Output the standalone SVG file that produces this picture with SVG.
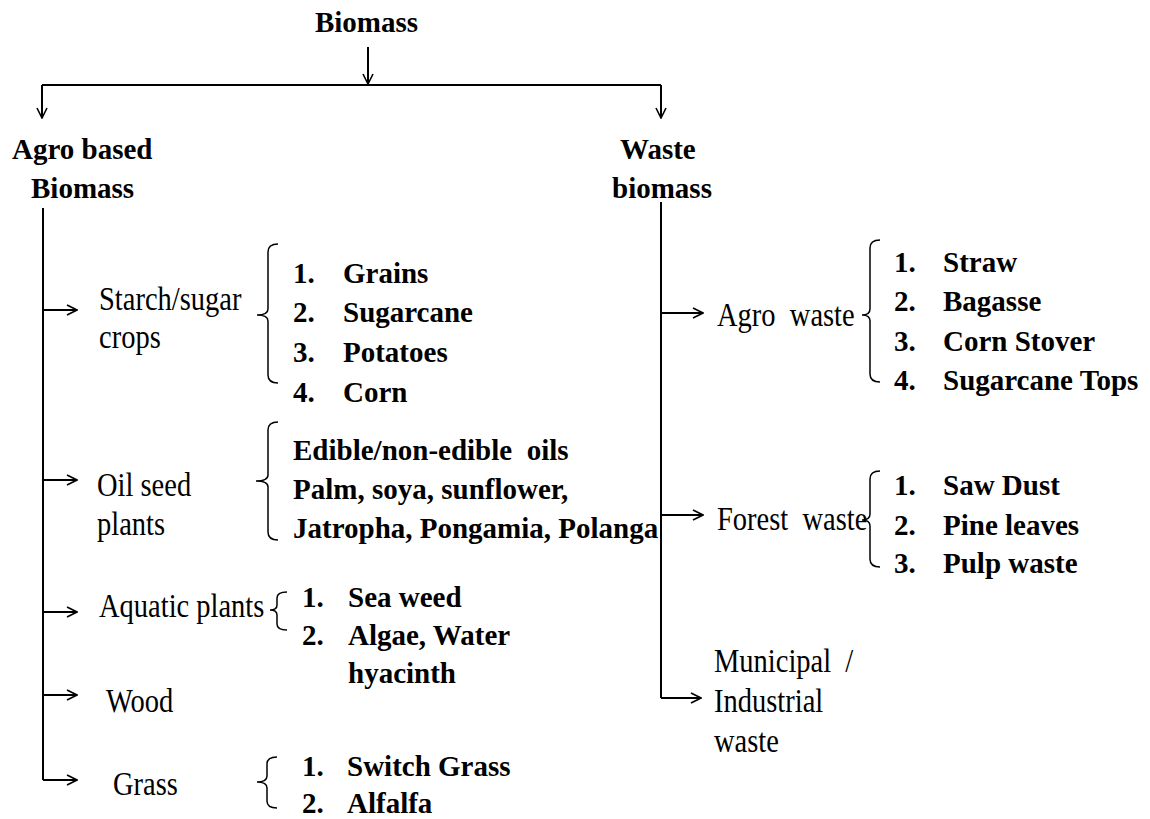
<svg xmlns="http://www.w3.org/2000/svg" width="1150" height="819" viewBox="0 0 1150 819">
<style>
.h{font-family:"Liberation Serif","Times New Roman",serif;font-weight:bold;font-size:29px;fill:#000}
.b{font-family:"Liberation Serif","Times New Roman",serif;font-weight:bold;font-size:29px;fill:#000}
.r{font-family:"Liberation Serif","Times New Roman",serif;font-size:28.5px;fill:#000}
.ln{stroke:#000;stroke-width:2;fill:none}
.br{stroke:#000;stroke-width:1.5;fill:none}
</style>
<defs>
<marker id="arr" viewBox="0 0 12 12" refX="11" refY="6" markerWidth="12" markerHeight="12" markerUnits="userSpaceOnUse" orient="auto">
<path d="M1,1 L11,6 L1,11" fill="none" stroke="#000" stroke-width="1.6"/>
</marker>
</defs>
<rect width="1150" height="819" fill="#fff"/>
<g id="connectors">
<path class="ln" d="M368,47 V84" marker-end="url(#arr)"/>
<path class="ln" d="M42,85 H661"/>
<path class="ln" d="M42,85 V118" marker-end="url(#arr)"/>
<path class="ln" d="M661,85 V118" marker-end="url(#arr)"/>
<path class="ln" d="M43,208 V780"/>
<path class="ln" d="M43,310 H77" marker-end="url(#arr)"/>
<path class="ln" d="M43,480 H77" marker-end="url(#arr)"/>
<path class="ln" d="M43,612 H77" marker-end="url(#arr)"/>
<path class="ln" d="M43,695 H77" marker-end="url(#arr)"/>
<path class="ln" d="M43,780 H77" marker-end="url(#arr)"/>
<path class="ln" d="M661,202 V698"/>
<path class="ln" d="M661,313 H703" marker-end="url(#arr)"/>
<path class="ln" d="M661,515 H703" marker-end="url(#arr)"/>
<path class="ln" d="M661,698 H701" marker-end="url(#arr)"/>
</g>
<g id="biomass"><text class="h" x="366.5" y="32" text-anchor="middle">Biomass</text></g>
<g id="agro-based"><text class="h" x="12" y="159">Agro based</text><text class="h" x="31" y="198">Biomass</text></g>
<g id="waste-biomass"><text class="h" x="620" y="159">Waste</text><text class="h" x="612" y="198">biomass</text></g>

<g id="starch">
<text class="r" transform="translate(99,310) scale(1,1.15)">Starch/sugar</text><text class="r" transform="translate(99,348) scale(1,1.15)">crops</text>
<path class="br" d="M278,244 Q268,244 268,252 V309 Q268,315 257,315 Q268,315 268,321 V375 Q268,383 278,383"/>
<text class="b" y="283"><tspan x="293">1.</tspan><tspan x="343">Grains</tspan></text>
<text class="b" y="322"><tspan x="293">2.</tspan><tspan x="343">Sugarcane</tspan></text>
<text class="b" y="362"><tspan x="293">3.</tspan><tspan x="343">Potatoes</tspan></text>
<text class="b" y="402"><tspan x="293">4.</tspan><tspan x="343">Corn</tspan></text>
</g>

<g id="oilseed">
<text class="r" transform="translate(97,496) scale(1,1.15)">Oil seed</text><text class="r" transform="translate(97,535) scale(1,1.15)">plants</text>
<path class="br" d="M278,422 Q268,422 268,430 V475 Q268,481 256,481 Q268,481 268,487 V532 Q268,540 278,540"/>
<text class="b" x="293" y="460" xml:space="preserve">Edible/non-edible  oils</text>
<text class="b" x="293" y="499">Palm, soya, sunflower,</text>
<text class="b" x="293" y="538">Jatropha, Pongamia, Polanga</text>
</g>

<g id="aquatic">
<text class="r" transform="translate(99,617) scale(1,1.15)">Aquatic plants</text>
<path class="br" d="M287,592 Q277,592 277,598 V605 Q277,610 270,610 Q277,610 277,615 V624 Q277,630 287,630"/>
<text class="b" y="607"><tspan x="302">1.</tspan><tspan x="348">Sea weed</tspan></text>
<text class="b" y="645"><tspan x="302">2.</tspan><tspan x="348">Algae, Water</tspan></text>
<text class="b" x="348" y="683">hyacinth</text>
</g>

<g id="wood"><text class="r" transform="translate(106,712) scale(1,1.15)">Wood</text></g>

<g id="grass">
<text class="r" transform="translate(113,795) scale(1,1.15)">Grass</text>
<path class="br" d="M277,757 Q267,757 267,764 V776 Q267,782 257,782 Q267,782 267,788 V801 Q267,808 277,808"/>
<text class="b" y="776"><tspan x="302">1.</tspan><tspan x="347">Switch Grass</tspan></text>
<text class="b" y="813"><tspan x="302">2.</tspan><tspan x="347">Alfalfa</tspan></text>
</g>

<g id="agro-waste">
<text class="r" transform="translate(717,326) scale(1,1.15)" xml:space="preserve">Agro  waste</text>
<path class="br" d="M880,240 Q870,240 870,248 V309 Q870,315 862,315 Q870,315 870,321 V374 Q870,382 880,382"/>
<text class="b" y="272"><tspan x="894">1.</tspan><tspan x="943">Straw</tspan></text>
<text class="b" y="311"><tspan x="894">2.</tspan><tspan x="943">Bagasse</tspan></text>
<text class="b" y="351"><tspan x="894">3.</tspan><tspan x="943">Corn Stover</tspan></text>
<text class="b" y="390"><tspan x="894">4.</tspan><tspan x="943">Sugarcane Tops</tspan></text>
</g>

<g id="forest-waste">
<text class="r" transform="translate(717,530) scale(1,1.15)" xml:space="preserve">Forest  waste</text>
<path class="br" d="M880,471 Q870,471 870,479 V514 Q870,520 862,520 Q870,520 870,526 V559 Q870,567 880,567"/>
<text class="b" y="495"><tspan x="894">1.</tspan><tspan x="943">Saw Dust</tspan></text>
<text class="b" y="535"><tspan x="894">2.</tspan><tspan x="943">Pine leaves</tspan></text>
<text class="b" y="573"><tspan x="894">3.</tspan><tspan x="943">Pulp waste</tspan></text>
</g>

<g id="municipal">
<text class="r" transform="translate(714,672) scale(1,1.15)" xml:space="preserve">Municipal  /</text>
<text class="r" transform="translate(714,712) scale(1,1.15)">Industrial</text>
<text class="r" transform="translate(714,752) scale(1,1.15)">waste</text>
</g>
</svg>
